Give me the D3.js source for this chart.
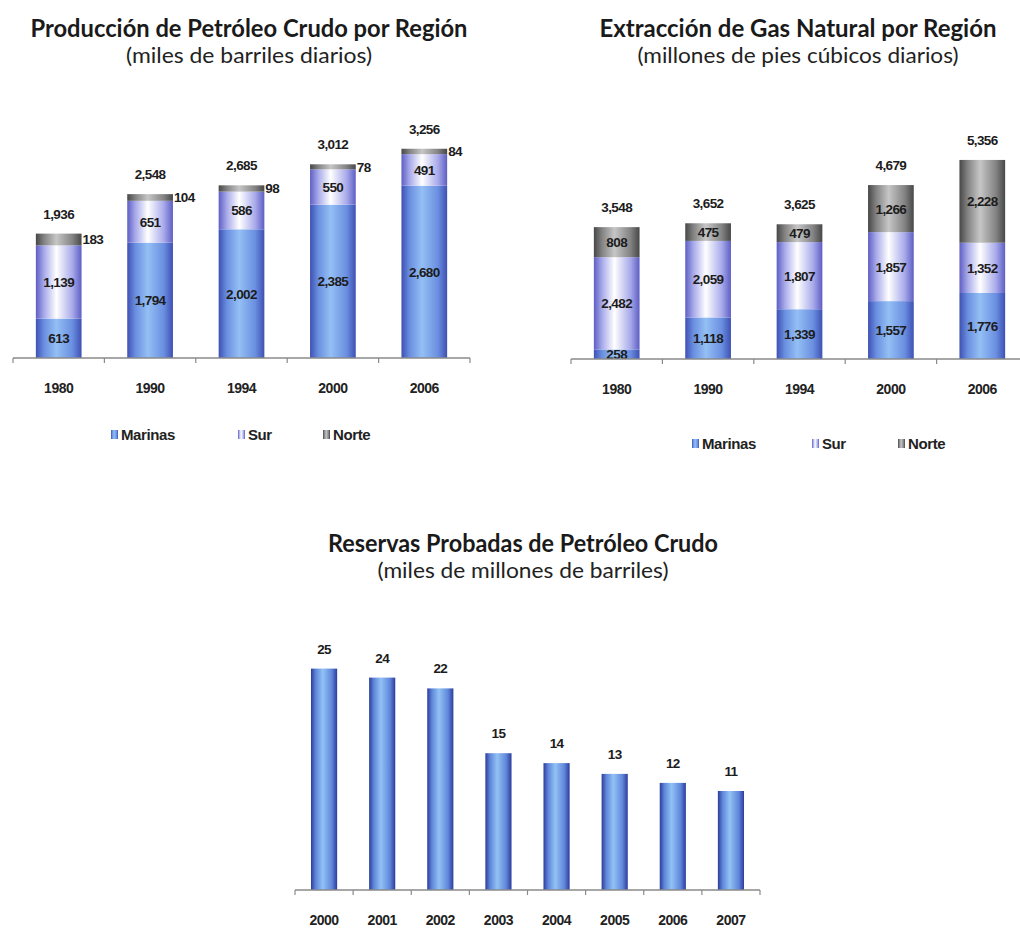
<!DOCTYPE html>
<html>
<head>
<meta charset="utf-8">
<script src="https://cdn.jsdelivr.net/npm/d3@7"></script>
<style>
  body { margin: 0; background: #fff; }
  svg { display: block; }
  .title { font-family: Lato, "Open Sans", sans-serif; font-weight: 700; fill: #1a1a1a; }
  .sub { font-family: Lato, "Open Sans", sans-serif; font-weight: 400; fill: #222; }
  .num { font-family: "Liberation Sans", Arial, sans-serif; font-weight: 700; font-size: 13.5px; fill: #1c1c1c; letter-spacing: -0.6px; }
  .cat { font-family: "Liberation Sans", Arial, sans-serif; font-weight: 700; font-size: 14px; fill: #222; letter-spacing: -0.5px; }
  .leg { font-family: "Liberation Sans", Arial, sans-serif; font-weight: 700; font-size: 15px; fill: #222; letter-spacing: -0.4px; }
</style>
</head>
<body>
<svg id="chart" width="1020" height="931"></svg>
<script>
// --- data ---------------------------------------------------------------
const years = ["1980", "1990", "1994", "2000", "2006"]
const series = ["Marinas", "Sur", "Norte"]

// Producción de petróleo crudo (miles de barriles diarios)
const oilMarinas = [613, 1794, 2002, 2385, 2680]
const oilSur = [1139, 651, 586, 550, 491]
const oilNorte = [183, 104, 98, 78, 84]
const oilTotal = [1936, 2548, 2685, 3012, 3256]

// Extracción de gas natural (millones de pies cúbicos diarios)
const gasMarinas = [258, 1118, 1339, 1557, 1776]
const gasSur = [2482, 2059, 1807, 1857, 1352]
const gasNorte = [808, 475, 479, 1266, 2228]
const gasTotal = [3548, 3652, 3625, 4679, 5356]

// Reservas probadas (miles de millones de barriles)
const resYears = ["2000", "2001", "2002", "2003", "2004", "2005", "2006", "2007"]
const resValues = [24.6, 23.6, 22.4, 15.2, 14.1, 12.9, 11.9, 11.0]

// ------------------------------------------------------------------------
const svg = d3.select("#chart")
const fmt = d3.format(",")
const defs = svg.append("defs")

// cylinder-ish horizontal gradients like the old Excel charts
function grad(id, edge, mid, center) {
    let g = defs.append("linearGradient").attr("id", id)
        .attr("x1", 0).attr("x2", 1).attr("y1", 0).attr("y2", 0)
    g.append("stop").attr("offset", "0%").attr("stop-color", edge)
    g.append("stop").attr("offset", "18%").attr("stop-color", mid)
    g.append("stop").attr("offset", "45%").attr("stop-color", center)
    g.append("stop").attr("offset", "80%").attr("stop-color", mid)
    g.append("stop").attr("offset", "100%").attr("stop-color", edge)
}
grad("gMarinas", "#3e50b4", "#6a8fe0", "#94bff4")
grad("gSur", "#5e5ec4", "#a8aaea", "#ffffff")
grad("gNorte", "#474747", "#838383", "#c6c6c6")
grad("gRes", "#2c3c9c", "#5f86da", "#92c2f4")
const fills = {Marinas: "url(#gMarinas)", Sur: "url(#gSur)", Norte: "url(#gNorte)"}

function titles(cx, y, t1, w1, t2, w2) {
    svg.append("text").attr("class", "title")
        .attr("x", cx).attr("y", y).attr("text-anchor", "middle")
        .style("font-size", "24px")
        .attr("textLength", w1).attr("lengthAdjust", "spacingAndGlyphs")
        .text(t1)
    svg.append("text").attr("class", "sub")
        .attr("x", cx).attr("y", y + 26).attr("text-anchor", "middle")
        .style("font-size", "22px")
        .attr("textLength", w2).attr("lengthAdjust", "spacingAndGlyphs")
        .text(t2)
}

// category axis with ticks between the bands
function bandAxis(x, y0, labelDy) {
    let [a, b] = x.range()
    let bounds = d3.range(x.domain().length + 1).map(i => a + i * x.step())
    let g = svg.append("g")
    g.append("line").attr("x1", a).attr("x2", b).attr("y1", y0).attr("y2", y0)
        .attr("stroke", "#8a8a8a").attr("stroke-width", 1.5)
    g.selectAll(".tk").data(bounds).enter().append("line")
        .attr("x1", d => d).attr("x2", d => d)
        .attr("y1", y0).attr("y2", y0 + 5)
        .attr("stroke", "#8a8a8a").attr("stroke-width", 1.2)
    g.selectAll(".cat").data(x.domain()).enter().append("text")
        .attr("class", "cat")
        .attr("x", d => x(d) + x.bandwidth() / 2)
        .attr("y", y0 + labelDy)
        .attr("text-anchor", "middle")
        .text(d => d)
}

function legend(x0, y0, gaps) {
    let g = svg.append("g")
    let xpos = x0
    series.forEach((s, i) => {
        g.append("rect").attr("x", xpos).attr("y", y0 - 4).attr("width", 7).attr("height", 9)
            .attr("fill", fills[s])
        g.append("text").attr("class", "leg").attr("x", xpos + 10).attr("y", y0 + 5.5)
            .text(s)
        xpos += gaps[i]
    })
}

function stacked(opts) {
    let rows = years.map((yr, i) => ({
        year: yr, Marinas: opts.marinas[i], Sur: opts.sur[i], Norte: opts.norte[i], total: opts.total[i]
    }))
    let x = d3.scaleBand().domain(years).range(opts.xr).paddingInner(0.5).paddingOuter(0.25)
    let y = d3.scaleLinear().domain([0, opts.ymax]).range([opts.base, opts.top])
    let stack = d3.stack().keys(series)(rows)

    let g = svg.append("g")
    stack.forEach(layer => {
        g.selectAll(".seg-" + layer.key).data(layer).enter().append("rect")
            .attr("x", d => x(d.data.year))
            .attr("width", x.bandwidth())
            .attr("y", d => y(d[1]))
            .attr("height", d => y(d[0]) - y(d[1]))
            .attr("fill", fills[layer.key])
    })

    // segment labels
    stack.forEach(layer => {
        let outside = opts.norteOutside && layer.key === "Norte"
        g.selectAll(".lab-" + layer.key).data(layer).enter().append("text")
            .attr("class", "num")
            .attr("x", d => outside ? x(d.data.year) + x.bandwidth() + 1 : x(d.data.year) + x.bandwidth() / 2)
            .attr("y", d => (y(d[0]) + y(d[1])) / 2 + 5)
            .attr("text-anchor", outside ? "start" : "middle")
            .text(d => fmt(d.data[layer.key]))
    })

    // totals on top (bar height taken from the published total)
    g.selectAll(".tot").data(rows).enter().append("text")
        .attr("class", "num")
        .attr("x", d => x(d.year) + x.bandwidth() / 2)
        .attr("y", d => y(d.total) - 15)
        .attr("text-anchor", "middle")
        .text(d => fmt(d.total))

    bandAxis(x, opts.base, 35)
}

// --- top left: oil production ---
titles(249, 37, "Producción de Petróleo Crudo por Región", 437, "(miles de barriles diarios)", 246)
stacked({
    marinas: oilMarinas, sur: oilSur, norte: oilNorte, total: oilTotal,
    xr: [13, 470], ymax: 3500, base: 358, top: 133, norteOutside: true
})
legend(111, 434, [127, 85])

// --- top right: gas ---
titles(798, 37, "Extracción de Gas Natural por Región", 397, "(millones de pies cúbicos diarios)", 321)
stacked({
    marinas: gasMarinas, sur: gasSur, norte: gasNorte, total: gasTotal,
    xr: [571, 1028], ymax: 6000, base: 359, top: 136, norteOutside: false
})
legend(692, 443, [120, 86])

// --- bottom: proven reserves ---
titles(523, 552, "Reservas Probadas de Petróleo Crudo", 390, "(miles de millones de barriles)", 291)
let xr = d3.scaleBand().domain(resYears).range([295, 760]).paddingInner(0.55).paddingOuter(0.275)
let yr = d3.scaleLinear().domain([0, 26]).range([890, 656])
svg.append("g").selectAll("rect").data(resValues).enter().append("rect")
    .attr("x", (d, i) => xr(resYears[i]))
    .attr("width", xr.bandwidth())
    .attr("y", d => yr(d))
    .attr("height", d => yr(0) - yr(d))
    .attr("fill", "url(#gRes)")
svg.append("g").selectAll("text").data(resValues).enter().append("text")
    .attr("class", "num")
    .attr("x", (d, i) => xr(resYears[i]) + xr.bandwidth() / 2)
    .attr("y", d => yr(d) - 15)
    .attr("text-anchor", "middle")
    .text(d => d3.format(".0f")(d))
bandAxis(xr, 890, 35)
</script>
</body>
</html>
